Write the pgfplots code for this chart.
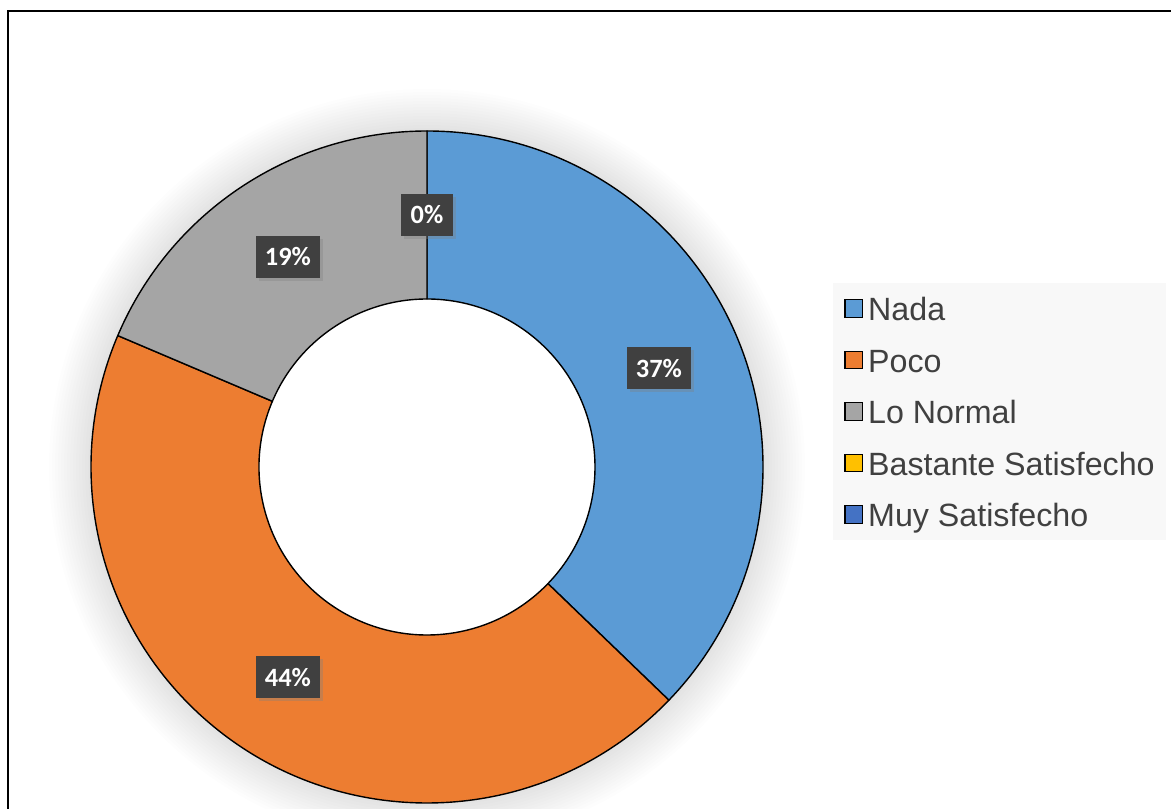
\documentclass[border=0pt]{standalone}
\usepackage{pgfplots}
\pgfplotsset{compat=1.18}
\usepackage{pgfplotstable}
\usepackage{fontspec}
\setmainfont{Liberation Sans}
\newfontfamily\calibri{Carlito}
\usetikzlibrary{shadows}

\definecolor{nada}{HTML}{5B9BD5}
\definecolor{poco}{HTML}{ED7D31}
\definecolor{normal}{HTML}{A5A5A5}
\definecolor{bastante}{HTML}{FFC000}
\definecolor{muy}{HTML}{4472C4}
\definecolor{txtgray}{HTML}{404040}
\definecolor{lblbox}{HTML}{404040}
\definecolor{legbg}{HTML}{F8F8F8}

% answers per category (percent labels are computed from these)
\pgfplotstableread{
idx value color
0   16    nada
1   19    poco
2   8     normal
3   0     bastante
4   0     muy
}\datatable

\pgfplotsset{legsq/.style={legend image code/.code={%
  \draw[##1,draw=black,line width=0.6pt] (0pt,-4.4pt) rectangle (8.8pt,4.4pt);}}}

\begin{document}
\begin{tikzpicture}
\begin{axis}[
  scale only axis, width=585.5pt, height=404pt,
  xmin=0, xmax=1171, ymin=0, ymax=808,
  hide axis, clip=false,
  legend cell align=left,
  legend style={at={(axis cs:833,525)}, anchor=north west,
    fill=legbg, draw=none, inner xsep=5.5pt, inner ysep=6.6pt,
    row sep=13.75pt, font=\fontsize{16.1}{19}\selectfont, text=txtgray,
    nodes={inner sep=0pt, text height=12pt, text depth=0pt},
    /tikz/every odd column/.append style={column sep=2.5pt}},
  legend entries={Nada, Poco, Lo Normal, Bastante Satisfecho, Muy Satisfecho},
]
\addlegendimage{legsq, fill=nada}
\addlegendimage{legsq, fill=poco}
\addlegendimage{legsq, fill=normal}
\addlegendimage{legsq, fill=bastante}
\addlegendimage{legsq, fill=muy}

\pgfplotsextra{
  % frame
  \draw[line width=1.3pt] (axis cs:8,-10) -- (axis cs:8,797) -- (axis cs:1190,797);
  % total
  \xdef\tot{0}
  \foreach \i in {0,...,4}{
    \pgfplotstablegetelem{\i}{value}\of\datatable
    \pgfmathsetmacro\t{\tot+\pgfplotsretval}\xdef\tot{\t}
  }
  % soft glow
  \foreach \k in {14,13,...,1}{
    \pgfmathsetmacro\rr{(336+3*\k)/2}
    \fill[black, opacity=0.009] (axis cs:427,341) circle[radius=\rr pt];
  }
  \fill[white] (axis cs:427,341) circle[radius=84pt];
  % slices
  \xdef\ang{90}
  \foreach \i in {0,...,4}{
    \pgfplotstablegetelem{\i}{value}\of\datatable \let\val\pgfplotsretval
    \pgfplotstablegetelem{\i}{color}\of\datatable \let\slicecol\pgfplotsretval
    \pgfmathsetmacro\e{\ang-360*\val/\tot}
    \ifdim\val pt>0pt
      \pgfmathsetmacro\ax{427+336*cos(\ang)}\pgfmathsetmacro\ay{341+336*sin(\ang)}
      \pgfmathsetmacro\bx{427+168*cos(\e)}\pgfmathsetmacro\by{341+168*sin(\e)}
      \filldraw[fill=\slicecol, draw=black, line width=0.7pt, line join=round]
        (axis cs:\ax,\ay) arc[start angle=\ang, end angle=\e, radius=168pt]
        -- (axis cs:\bx,\by) arc[start angle=\e, end angle=\ang, radius=84pt] -- cycle;
    \fi
    \xdef\ang{\e}
  }
  % data labels
  \xdef\ang{90}\xdef\zerodone{0}
  \foreach \i in {0,...,4}{
    \pgfplotstablegetelem{\i}{value}\of\datatable \let\val\pgfplotsretval
    \pgfmathsetmacro\m{\ang-180*\val/\tot}
    \pgfmathsetmacro\e{\ang-360*\val/\tot}
    \pgfmathtruncatemacro\pct{round(100*\val/\tot)}
    \pgfmathsetmacro\lx{427+252*cos(\m)}\pgfmathsetmacro\ly{341+252*sin(\m)}
    \pgfmathtruncatemacro\show{(\val>0) || (\zerodone==0)}
    \ifnum\show=1
      \node[fill=lblbox, text=white, font={\calibri\bfseries\fontsize{13.2}{15}\selectfont},
        minimum height=21pt, inner xsep=4.6pt, inner ysep=0pt,
        drop shadow={shadow xshift=1.5pt, shadow yshift=-1.5pt, opacity=0.35}]
        at (axis cs:\lx,\ly) {\pct\%};
    \fi
    \ifdim\val pt=0pt \xdef\zerodone{1}\fi
    \xdef\ang{\e}
  }
}
\end{axis}
\pgfresetboundingbox
\path[use as bounding box] (current axis.south west) rectangle (current axis.north east);
\end{tikzpicture}
\end{document}
